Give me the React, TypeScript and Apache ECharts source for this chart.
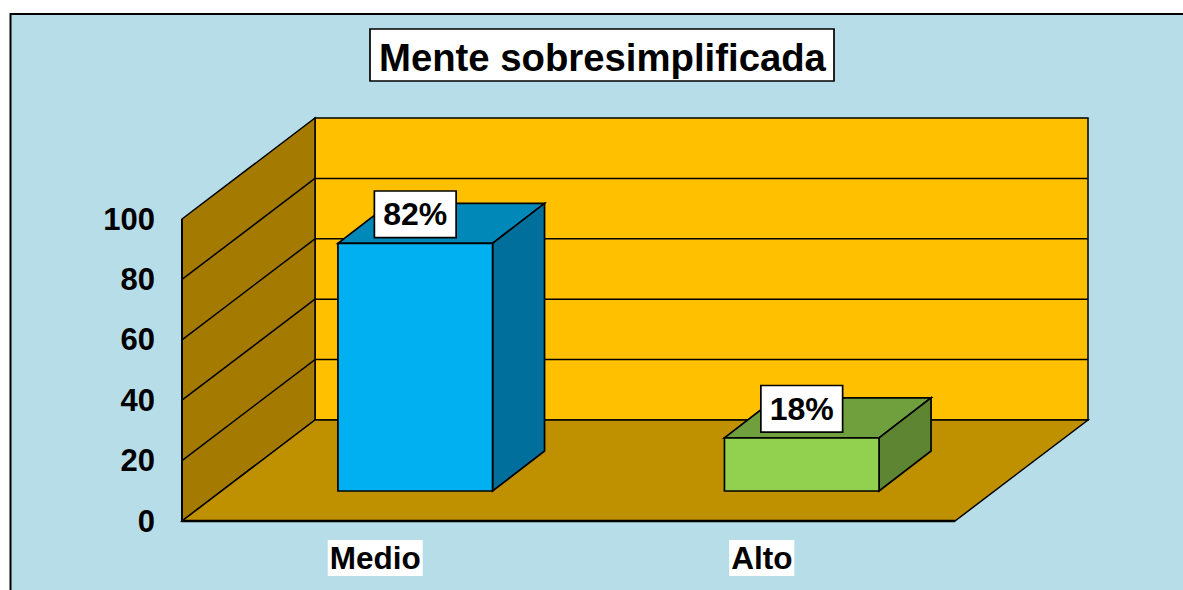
import React, { useEffect, useRef } from "react";
import * as echarts from "echarts";

const categories = ["Medio", "Alto"];
const values = [82, 17.6];
const valueLabels = ["82%", "18%"];
const yTicks = [0, 20, 40, 60, 80, 100];
const frontColors = ["#00B0F0", "#92D050"];
const topColors = ["#0088B8", "#70A03E"];
const sideColors = ["#006F9B", "#5E8532"];

const FONT = '"Liberation Sans", Arial, sans-serif';
const WALL_DX = 133;
const WALL_DY = -101;
const BAR_NEAR_DX = 40;
const BAR_NEAR_DY = -30;
const BAR_FAR_DX = 92;
const BAR_FAR_DY = -70;
const STROKE = "#000";
const poly = (points: number[][], fill: string | null, lineWidth = 1.5, z2 = 0) => ({
  type: "polygon",
  z2,
  shape: { points },
  style: { fill: fill ?? "none", stroke: STROKE, lineWidth, lineJoin: "miter" },
});
const seg = (a: number[], b: number[], lineWidth = 1.5, z2 = 1) => ({
  type: "line",
  z2,
  shape: { x1: a[0], y1: a[1], x2: b[0], y2: b[1] },
  style: { stroke: STROKE, lineWidth },
});

const renderScene = (_: any, api: any) => {
  const band = api.size([1, 0])[0];
  const x0 = api.coord([0, 0])[0] - band / 2;
  const x1 = api.coord([1, 0])[0] + band / 2;
  const yAt = (v: number) => api.coord([0, v])[1];
  const y0 = yAt(yTicks[0]);
  const yMax = yAt(yTicks[yTicks.length - 1]);
  const children: any[] = [];
  children.push(
    poly(
      [
        [x0 + WALL_DX, yMax + WALL_DY],
        [x1 + WALL_DX, yMax + WALL_DY],
        [x1 + WALL_DX, y0 + WALL_DY],
        [x0 + WALL_DX, y0 + WALL_DY],
      ],
      "#FFC000"
    )
  );
  children.push(
    poly(
      [
        [x0, yMax],
        [x0 + WALL_DX, yMax + WALL_DY],
        [x0 + WALL_DX, y0 + WALL_DY],
        [x0, y0],
      ],
      "#A47B00"
    )
  );
  children.push(
    poly(
      [
        [x0, y0],
        [x0 + WALL_DX, y0 + WALL_DY],
        [x1 + WALL_DX, y0 + WALL_DY],
        [x1, y0],
      ],
      "#BF9000"
    )
  );
  yTicks.slice(1, -1).forEach((t) => {
    const y = yAt(t);
    children.push(seg([x0, y], [x0 + WALL_DX, y + WALL_DY]));
    children.push(seg([x0 + WALL_DX, y + WALL_DY], [x1 + WALL_DX, y + WALL_DY]));
  });
  children.push(seg([x0, yMax], [x0, y0], 2));
  children.push(seg([x0, y0], [x1, y0], 2.4));
  return { type: "group", children };
};

const renderBar = (params: any, api: any) => {
  const idx = params.dataIndex;
  const cat = api.value(0);
  const val = api.value(1);
  const band = api.size([1, 0])[0];
  const w = band * 0.4;
  const cx = api.coord([cat, 0])[0];
  const yB = api.coord([cat, 0])[1];
  const yT = api.coord([cat, val])[1];
  const l = cx - w / 2 + BAR_NEAR_DX;
  const r = cx + w / 2 + BAR_NEAR_DX;
  const bottom = yB + BAR_NEAR_DY;
  const top = yT + BAR_NEAR_DY;
  const dx = BAR_FAR_DX - BAR_NEAR_DX;
  const dy = BAR_FAR_DY - BAR_NEAR_DY;
  return {
    type: "group",
    children: [
      poly([[l, top], [r, top], [r + dx, top + dy], [l + dx, top + dy]], topColors[idx], 1.7),
      poly([[r, top], [r + dx, top + dy], [r + dx, bottom + dy], [r, bottom]], sideColors[idx], 1.7),
      poly([[l, top], [r, top], [r, bottom], [l, bottom]], frontColors[idx], 1.7),
      {
        type: "text",
        z2: 10,
        style: {
          text: valueLabels[idx],
          x: (l + r) / 2,
          y: top - 29,
          align: "center",
          verticalAlign: "middle",
          font: `bold 32px ${FONT}`,
          fill: "#000",
          backgroundColor: "#fff",
          borderColor: "#000",
          borderWidth: 1.7,
          padding: [7, 8, 6, 8],
        },
      },
    ],
  };
};

export default function App() {
  const ref = useRef<HTMLDivElement>(null);
  useEffect(() => {
    const chart = echarts.init(ref.current!, null, { renderer: "svg" });
    chart.setOption({
      animation: false,
      backgroundColor: "#fff",
      title: {
        text: "Mente sobresimplificada",
        left: 370,
        top: 29,
        padding: [9, 8, 5, 9],
        backgroundColor: "#fff",
        borderColor: "#000",
        borderWidth: 1.7,
        textStyle: { fontFamily: FONT, fontWeight: "bold", fontSize: 38.3, color: "#000" },
      },
      graphic: [
        {
          type: "rect",
          z: -1,
          shape: { x: 10.5, y: 14, width: 1300, height: 700 },
          style: { fill: "#B7DDE8", stroke: "#000", lineWidth: 2 },
        },
      ],
      grid: { left: 182, top: 219, width: 773, height: 302 },
      xAxis: {
        type: "category",
        data: categories,
        axisLine: { show: false },
        axisTick: { show: false },
        axisLabel: {
          margin: 19,
          fontFamily: FONT,
          fontWeight: "bold",
          fontSize: 31.5,
          color: "#000",
          backgroundColor: "#fff",
          padding: [2, 2, 2, 2],
        },
      },
      yAxis: {
        type: "value",
        min: 0,
        max: 100,
        interval: 20,
        axisLine: { show: false },
        axisTick: { show: false },
        splitLine: { show: false },
        axisLabel: { margin: 27, fontFamily: FONT, fontWeight: "bold", fontSize: 31, color: "#000" },
      },
      series: [
        {
          type: "custom",
          silent: true,
          z: 1,
          renderItem: renderScene,
          encode: { x: 0, y: 1 },
          data: [[0, 0]],
        },
        {
          type: "custom",
          z: 3,
          renderItem: renderBar,
          encode: { x: 0, y: 1 },
          data: values.map((v, i) => [i, v]),
        },
      ],
    });
    return () => chart.dispose();
  }, []);
  return <div ref={ref} style={{ position: "fixed", left: 0, top: 0, width: 1183, height: 590 }} />;
}
